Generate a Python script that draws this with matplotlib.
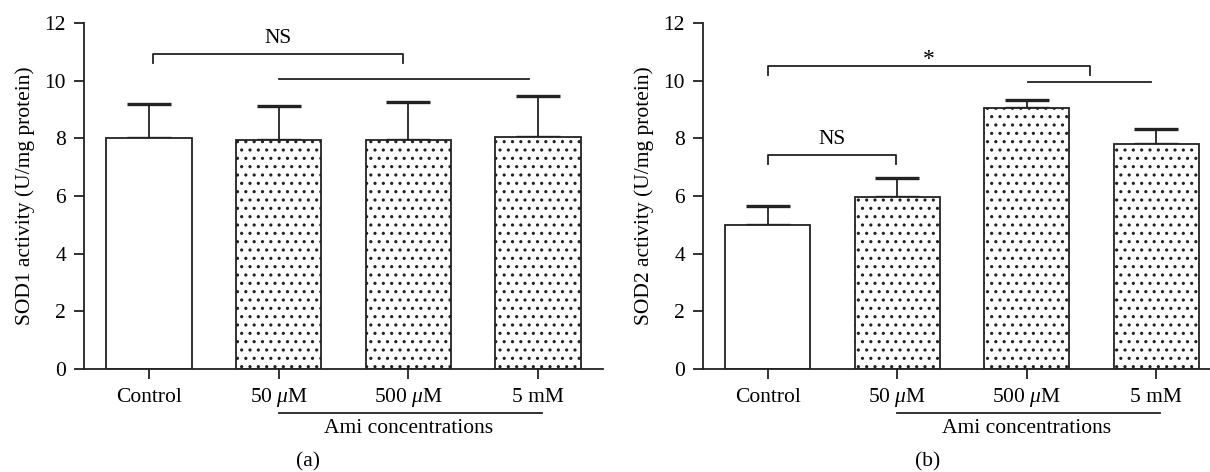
import numpy as np
import matplotlib.pyplot as plt

plt.rcParams['font.family'] = ['Liberation Serif', 'DejaVu Serif']
plt.rcParams['mathtext.fontset'] = 'custom'
plt.rcParams['mathtext.it'] = 'Liberation Serif:italic'
plt.rcParams['mathtext.rm'] = 'Liberation Serif'
plt.rcParams['hatch.linewidth'] = 1.1
plt.rcParams['hatch.color'] = 'black'

# data
groups = ['Control', r'50 $\mu$M', r'500 $\mu$M', '5 mM']
sod1_mean = [8.00, 7.95, 7.93, 8.05]
sod1_top = [9.20, 9.12, 9.27, 9.48]      # top of the error bars
sod2_mean = [4.98, 5.97, 9.04, 7.82]
sod2_top = [5.64, 6.61, 9.33, 8.33]
ylabels = ['SOD1 activity (U/mg protein)', 'SOD2 activity (U/mg protein)']
panel_tags = ['(a)', '(b)']

INK = '#222222'
FS = 15.5


def draw_panel(ax, means, tops, ylab):
    x = np.arange(len(groups))
    hatches = ['', '..', '..', '..']
    for i in range(len(groups)):
        ax.bar(x[i], means[i], width=0.66, color='white', edgecolor=INK,
               linewidth=1.3, hatch=hatches[i], zorder=2)
    err = np.array(tops) - np.array(means)
    ax.errorbar(x, means, yerr=[np.zeros_like(err), err], fmt='none',
                ecolor=INK, elinewidth=1.3, capsize=15.5, capthick=2.4, zorder=1)
    ax.set_xlim(-0.5, 3.5)
    ax.set_ylim(0, 12)
    ax.set_yticks(np.arange(0, 13, 2))
    ax.set_xticks(x)
    ax.set_xticklabels(groups, fontsize=FS)
    ax.tick_params(axis='both', direction='out', length=7, width=1.3, color=INK,
                   labelsize=FS)
    ax.tick_params(axis='y', pad=6)
    ax.tick_params(axis='x', pad=16.5)
    for lab in ax.get_xticklabels():
        lab.set_verticalalignment('baseline')   # keep mu labels on the same baseline
    for s in ['top', 'right']:
        ax.spines[s].set_visible(False)
    for s in ['left', 'bottom']:
        ax.spines[s].set_color(INK)
        ax.spines[s].set_linewidth(1.3)
    ax.set_ylabel(ylab, fontsize=FS, labelpad=7)
    # group line under the concentration labels
    ax.plot([1.0, 3.03], [-1.52, -1.52], color=INK, lw=1.3, clip_on=False)
    ax.text(2.0, -2.07, 'Ami concentrations', ha='center', va='center',
            fontsize=FS, clip_on=False)


def bracket(ax, x0, x1, ytop, ybot, label, ly, fs=FS):
    ax.plot([x0, x0, x1, x1], [ybot, ytop, ytop, ybot], color=INK, lw=1.3)
    ax.text((x0 + x1) / 2, ly, label, ha='center', va='center', fontsize=fs)


fig = plt.figure(figsize=(12.10, 4.72), dpi=100)
ax1 = fig.add_axes([84 / 1210, 103 / 472, 519 / 1210, 346 / 472])
ax2 = fig.add_axes([703 / 1210, 103 / 472, 518 / 1210, 346 / 472])

draw_panel(ax1, sod1_mean, sod1_top, ylabels[0])
draw_panel(ax2, sod2_mean, sod2_top, ylabels[1])

# significance marks, panel (a)
bracket(ax1, 0.03, 1.96, 10.94, 10.62, 'NS', 11.45)
ax1.plot([1.0, 2.93], [10.05, 10.05], color=INK, lw=1.3)

# significance marks, panel (b)
bracket(ax2, 0.0, 2.49, 10.52, 10.18, '*', 10.75, fs=17)
ax2.plot([2.01, 2.96], [9.95, 9.95], color=INK, lw=1.3)
bracket(ax2, 0.0, 0.99, 7.43, 7.1, 'NS', 7.95)

fig.text(308 / 1210, 1 - 462 / 472, panel_tags[0], ha='center', va='center', fontsize=FS)
fig.text(928 / 1210, 1 - 462 / 472, panel_tags[1], ha='center', va='center', fontsize=FS)

fig.savefig('out.png', dpi=100)
